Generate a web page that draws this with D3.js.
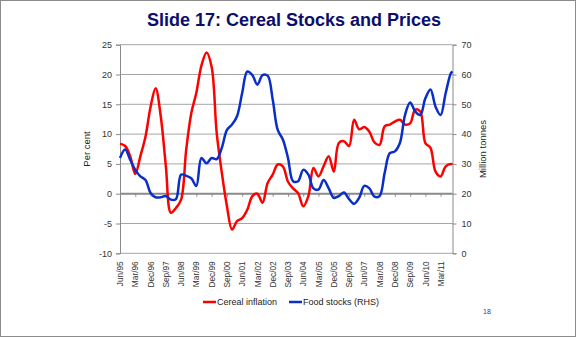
<!DOCTYPE html>
<html>
<head>
<meta charset="utf-8">
<script src="https://cdn.jsdelivr.net/npm/d3@7"></script>
<style>
  body { margin: 0; background: #fff; }
  svg { display: block; font-family: "Liberation Sans", Arial, sans-serif; }
  .tick text { fill: #333; font-size: 9px; }
</style>
</head>
<body>
<div id="chart"></div>
<script>
const periods = [
  "Jun/95","Sep/95","Dec/95","Mar/96","Jun/96","Sep/96","Dec/96","Mar/97","Jun/97","Sep/97",
  "Dec/97","Mar/98","Jun/98","Sep/98","Dec/98","Mar/99","Jun/99","Sep/99","Dec/99","Mar/00",
  "Jun/00","Sep/00","Dec/00","Mar/01","Jun/01","Sep/01","Dec/01","Mar/02","Jun/02","Sep/02",
  "Dec/02","Mar/03","Jun/03","Sep/03","Dec/03","Mar/04","Jun/04","Sep/04","Dec/04","Mar/05",
  "Jun/05","Sep/05","Dec/05","Mar/06","Jun/06","Sep/06","Dec/06","Mar/07","Jun/07","Sep/07",
  "Dec/07","Mar/08","Jun/08","Sep/08","Dec/08","Mar/09","Jun/09","Sep/09","Dec/09","Mar/10",
  "Jun/10","Sep/10","Dec/10","Mar/11","Jun/11","Sep/11","Oct/11"
];

const cerealInflation = [
  8.4, 8.0, 6.3, 3.3, 6.3, 9.6, 14.6, 17.7, 13.0, 4.6,
  -3.2, -2.4, -1.0, 7.4, 13.5, 16.9, 21.5, 23.7, 21.3, 10.2,
  3.5, -2.1, -6.0, -4.6, -4.1, -2.7, -0.4, 0.0, -1.5, 1.8,
  3.2, 4.9, 4.6, 2.0, 0.9, 0.1, -2.1, -0.4, 4.3, 2.9,
  4.6, 6.3, 3.7, 8.5, 8.8, 8.0, 12.4, 10.8, 11.2, 10.4,
  8.6, 8.2, 11.3, 11.6, 12.1, 12.4, 11.6, 11.8, 14.1, 13.8,
  8.5, 7.7, 3.7, 2.9, 4.6, 5.0, 4.9
];

const foodStocks = [
  32.0, 34.8, 31.4, 28.0, 25.8, 24.6, 20.2, 18.8, 18.8, 19.2,
  18.0, 18.2, 26.4, 26.0, 25.2, 22.6, 32.0, 30.2, 32.0, 31.6,
  35.4, 41.4, 43.2, 46.0, 53.8, 61.0, 59.8, 56.6, 59.8, 59.6,
  51.6, 41.4, 38.2, 32.0, 24.2, 24.2, 28.0, 26.4, 21.8, 21.4,
  24.6, 21.8, 18.6, 19.2, 20.4, 18.2, 16.6, 18.6, 22.6, 21.8,
  19.0, 19.2, 27.0, 33.6, 34.2, 37.0, 46.4, 50.6, 47.6, 46.4,
  52.0, 55.0, 49.2, 46.4, 53.8, 60.4, 61.0
];

const xTickLabels = [
  "Jun/95","Mar/96","Dec/96","Sep/97","Jun/98","Mar/99","Dec/99","Sep/00","Jun/01","Mar/02",
  "Dec/02","Sep/03","Jun/04","Mar/05","Dec/05","Sep/06","Jun/07","Mar/08","Dec/08","Sep/09",
  "Jun/10","Mar/11"
];
const leftTicks = [-10, -5, 0, 5, 10, 15, 20, 25];
const rightTicks = [0, 10, 20, 30, 40, 50, 60, 70];

const W = 576, H = 337;
const plot = { left: 120, right: 452.5, top: 44.7, bottom: 253.3 };

const parse = d3.timeParse("%b/%y");
const dates = periods.map(parse);

const x = d3.scaleTime()
  .domain([dates[0], dates[dates.length - 1]])
  .range([plot.left, plot.right]);
const yL = d3.scaleLinear().domain([-10, 25]).range([plot.bottom, plot.top]);
const yR = d3.scaleLinear().domain([0, 70]).range([plot.bottom, plot.top]);

const svg = d3.select("#chart").append("svg")
  .attr("width", W).attr("height", H);

// slide frame
svg.append("rect")
  .attr("x", 0.5).attr("y", 0.5).attr("width", W - 1).attr("height", H - 1)
  .attr("fill", "#fff").attr("stroke", "#8c8c8c");

svg.append("text")
  .attr("x", 294).attr("y", 26)
  .attr("text-anchor", "middle")
  .attr("fill", "#0d0d6b")
  .style("font-size", "18px").style("font-weight", "bold")
  .text("Slide 17: Cereal Stocks and Prices");

// gridlines
svg.append("g").selectAll("line")
  .data(leftTicks).join("line")
  .attr("x1", plot.left).attr("x2", plot.right)
  .attr("y1", d => yL(d)).attr("y2", d => yL(d))
  .attr("stroke", d => d === 0 ? "#8a8a8a" : "#a6a6a6")
  .attr("stroke-width", d => d === 0 ? 2 : 1);

// left axis (plain hyphen minus, like the slide)
const axL = svg.append("g")
  .attr("transform", `translate(${plot.left},0)`)
  .call(d3.axisLeft(yL).tickValues(leftTicks).tickSize(4).tickPadding(4)
    .tickFormat(d => String(d)));
axL.select(".domain").attr("stroke", "#8a8a8a");
axL.selectAll(".tick line").attr("stroke", "#8a8a8a");

// right axis
const axR = svg.append("g")
  .attr("transform", `translate(${plot.right},0)`)
  .call(d3.axisRight(yR).tickValues(rightTicks).tickSize(4).tickPadding(5));
axR.select(".domain").attr("stroke", "#8a8a8a");
axR.selectAll(".tick line").attr("stroke", "#8a8a8a");

// category axis sitting on zero
const tickDates = xTickLabels.map(parse);
const axX = svg.append("g")
  .attr("transform", `translate(0,${yL(0)})`)
  .call(d3.axisBottom(x).tickValues(tickDates).tickSize(3)
    .tickFormat((d, i) => xTickLabels[i]));
axX.select(".domain").remove();
axX.selectAll(".tick line").attr("stroke", "#8a8a8a");
axX.selectAll(".tick text")
  .attr("transform", `translate(0,${plot.bottom - yL(0) + 8}) rotate(-90)`)
  .attr("text-anchor", "end")
  .attr("x", 0).attr("y", 0).attr("dx", 0).attr("dy", "0.32em")
  .style("font-size", "8.3px");

// axis titles
svg.append("text")
  .attr("transform", `translate(90,${(plot.top + plot.bottom) / 2}) rotate(-90)`)
  .attr("text-anchor", "middle").attr("fill", "#222")
  .style("font-size", "9.5px").text("Per cent");
svg.append("text")
  .attr("transform", `translate(486,${(plot.top + plot.bottom) / 2}) rotate(-90)`)
  .attr("text-anchor", "middle").attr("fill", "#222")
  .style("font-size", "9.5px").text("Million tonnes");

// series
const curve = d3.curveCatmullRom.alpha(0.5);
const redLine = d3.line().x((d, i) => x(dates[i])).y(d => yL(d)).curve(curve);
const blueLine = d3.line().x((d, i) => x(dates[i])).y(d => yR(d)).curve(curve);

svg.append("path").datum(cerealInflation)
  .attr("d", redLine).attr("fill", "none")
  .attr("stroke", "#ff0000").attr("stroke-width", 2.5);
svg.append("path").datum(foodStocks)
  .attr("d", blueLine).attr("fill", "none")
  .attr("stroke", "#0a2ec8").attr("stroke-width", 2.5);

// legend
const legend = [
  { name: "Cereal inflation", color: "#ff0000", x: 203 },
  { name: "Food stocks (RHS)", color: "#0a2ec8", x: 289 }
];
const lg = svg.append("g").selectAll("g").data(legend).join("g")
  .attr("transform", d => `translate(${d.x},302)`);
lg.append("line").attr("x1", 0).attr("x2", 13).attr("stroke", d => d.color).attr("stroke-width", 2.5);
lg.append("text").attr("x", 14).attr("dy", "0.35em")
  .attr("fill", "#222").style("font-size", "9px").text(d => d.name);

svg.append("text")
  .attr("x", 487).attr("y", 314).attr("text-anchor", "middle")
  .attr("fill", "#1f3c9c").style("font-size", "7px").text("18");
</script>
</body>
</html>
